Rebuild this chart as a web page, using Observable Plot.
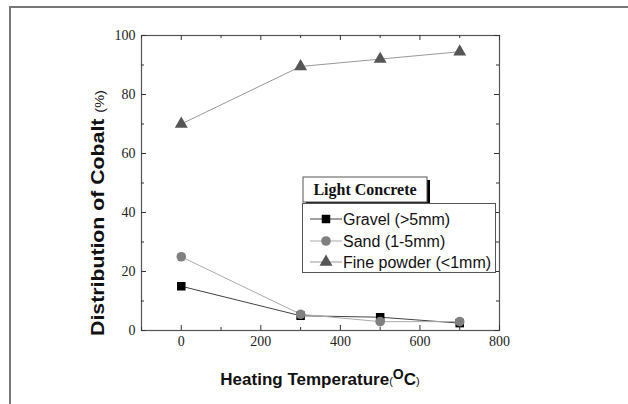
<!DOCTYPE html>
<html>
<head>
<meta charset="utf-8">
<script src="https://cdn.jsdelivr.net/npm/d3@7"></script>
<script src="https://cdn.jsdelivr.net/npm/@observablehq/plot@0.6"></script>
<style>
  html, body { margin: 0; padding: 0; background: #fff; }
  #chart { width: 628px; height: 404px; overflow: hidden; }
</style>
</head>
<body>
<div id="chart"></div>
<script>
// ---- data ----
const temps = [0, 300, 500, 700];
const gravel = [15, 5, 4.5, 2.5];
const sand = [25, 5.5, 3, 3];
const fine = [70, 89.5, 92, 94.5];
const seriesNames = ["Gravel (>5mm)", "Sand (1-5mm)", "Fine powder (<1mm)"];
const legendTitle = "Light Concrete";
const xMajor = [0, 200, 400, 600, 800];
const xMinor = [-100, 100, 300, 500, 700];
const yMajor = [0, 20, 40, 60, 80, 100];
const yMinor = [10, 30, 50, 70, 90];

// ---- layout ----
const W = 628, H = 404;
const mL = 141, mR = 129, mT = 35, mB = 74;
const plotW = W - mL - mR, plotH = H - mT - mB;

// ---- styles ----
const styles = [
  {symbol: "square", fill: "#000", line: "#444"},
  {symbol: "circle", fill: "#808080", line: "#aaa"},
  {symbol: "triangle", fill: "#555", line: "#999"}
];
const seriesValues = [gravel, sand, fine];
const rows = seriesValues.map((vals, i) => temps.map((t, j) => ({t, v: vals[j], s: seriesNames[i]})));

const serif = "'Liberation Serif', 'Times New Roman', serif";
const sans = "'Liberation Sans', Arial, sans-serif";
const tickColor = "#333";

const marks = [Plot.frame({stroke: "#555", strokeWidth: 1.2})];
// inward ticks on all four sides
const tick = (vals, len, side) => {
  const o = {stroke: tickColor, strokeWidth: 1};
  if (side === "bottom") return Plot.ruleX(vals, {x: d => d, ...o, insetTop: plotH - len});
  if (side === "top") return Plot.ruleX(vals, {x: d => d, ...o, insetBottom: plotH - len});
  if (side === "left") return Plot.ruleY(vals, {y: d => d, ...o, insetRight: plotW - len});
  return Plot.ruleY(vals, {y: d => d, ...o, insetLeft: plotW - len});
};
for (const side of ["bottom", "top", "left", "right"]) {
  const horiz = side === "bottom" || side === "top";
  marks.push(tick(horiz ? xMajor : yMajor, 5, side));
  marks.push(tick(horiz ? xMinor : yMinor, 3, side));
}
marks.push(Plot.axisX(xMajor, {anchor: "bottom", tickSize: 0, tickPadding: 6, label: null,
  fontFamily: serif, fontSize: 14, fill: "#222"}));
marks.push(Plot.axisY(yMajor, {anchor: "left", tickSize: 0, tickPadding: 6, label: null,
  fontFamily: serif, fontSize: 14, fill: "#222"}));

rows.forEach((r, i) => {
  marks.push(Plot.line(r, {x: "t", y: "v", stroke: styles[i].line, strokeWidth: 1}));
});
rows.forEach((r, i) => {
  marks.push(Plot.dot(r, {x: "t", y: "v", symbol: () => styles[i].symbol, fill: styles[i].fill, r: 4.8, stroke: "none"}));
});

const chart = Plot.plot({
  width: W, height: H,
  marginLeft: mL, marginRight: mR, marginTop: mT, marginBottom: mB,
  x: {domain: [-100, 800]},
  y: {domain: [0, 100]},
  style: {background: "#fff", overflow: "visible"},
  marks
});
document.getElementById("chart").appendChild(chart);

// ---- decorations: outer frame, axis titles, legend ----
const svg = d3.select(chart);
svg.append("path").attr("d", "M10,404V7H628").attr("fill", "none").attr("stroke", "#777").attr("stroke-width", 2);

// x title
const xt = svg.append("text").attr("x", 320).attr("y", 385).attr("text-anchor", "middle")
  .attr("font-family", sans).attr("font-size", 17).attr("font-weight", "bold").attr("fill", "#111");
xt.append("tspan").text("Heating Temperature");
xt.append("tspan").attr("font-size", 11).attr("font-weight", "normal").text("(");
xt.append("tspan").attr("dy", -6).attr("font-size", 14).text("O");
xt.append("tspan").attr("dy", 6).text("C");
xt.append("tspan").attr("font-size", 11).attr("font-weight", "normal").text(")");

// y title (slightly stretched along its length, like the reference)
const yt = svg.append("text").attr("transform", "translate(104,213) rotate(-90) scale(1.12,1)").attr("text-anchor", "middle")
  .attr("font-family", sans).attr("font-size", 19).attr("font-weight", "bold").attr("fill", "#111");
yt.append("tspan").text("Distribution of Cobalt ");
yt.append("tspan").attr("font-size", 13).attr("font-weight", "normal").text("(%)");

// legend title box with shadow
const lg = svg.append("g").attr("text-anchor", "start");
lg.append("rect").attr("x", 306).attr("y", 180).attr("width", 124).attr("height", 25).attr("fill", "#000");
lg.append("rect").attr("x", 303).attr("y", 177).attr("width", 124).attr("height", 25).attr("fill", "#fff").attr("stroke", "#555");
lg.append("text").attr("x", 365).attr("y", 195).attr("text-anchor", "middle")
  .attr("font-family", serif).attr("font-weight", "bold").attr("font-size", 16).attr("fill", "#111").text(legendTitle);
lg.append("rect").attr("x", 302.5).attr("y", 203.5).attr("width", 193).attr("height", 69).attr("fill", "#fff").attr("stroke", "#555");
const legendY = [219, 241, 262];
seriesNames.forEach((name, i) => {
  const y = legendY[i];
  lg.append("line").attr("x1", 310).attr("x2", 342).attr("y1", y).attr("y2", y).attr("stroke", styles[i].line);
  const sym = {square: d3.symbolSquare, circle: d3.symbolCircle, triangle: d3.symbolTriangle}[styles[i].symbol];
  lg.append("path").attr("d", d3.symbol(sym, Math.PI * 4.8 * 4.8)()).attr("transform", `translate(326,${y})`).attr("fill", styles[i].fill);
  lg.append("text").attr("x", 343).attr("y", y + 6).attr("text-anchor", "start")
    .attr("font-family", sans).attr("font-size", 16).attr("fill", "#111").text(name);
});
</script>
</body>
</html>
